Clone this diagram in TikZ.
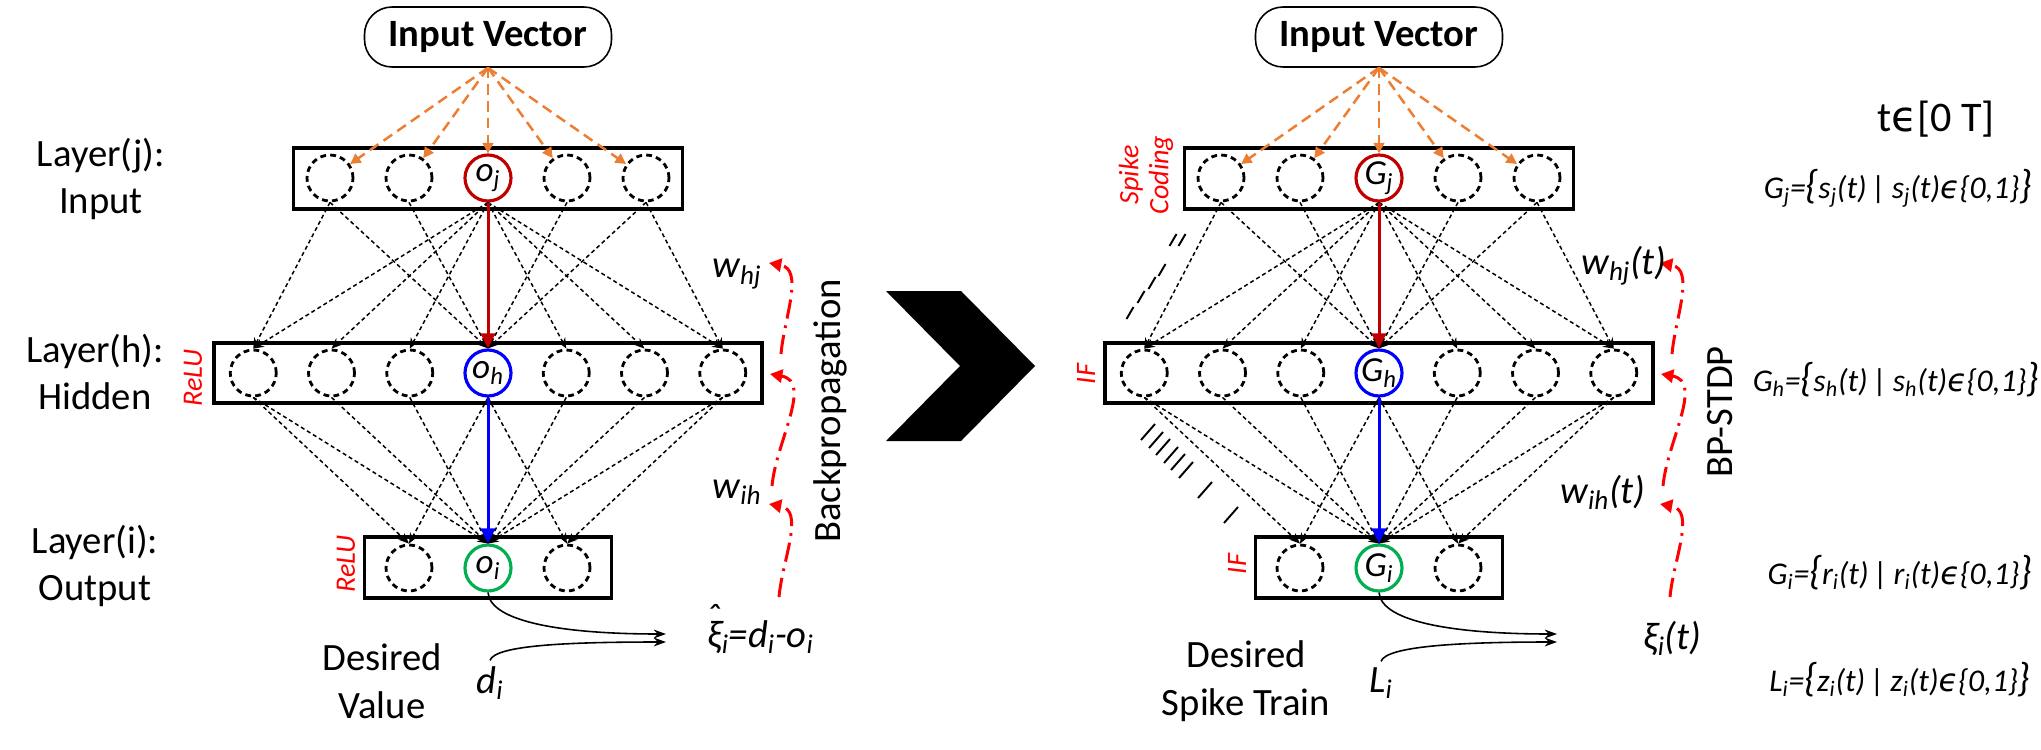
\documentclass[tikz,border=0pt]{standalone}
\usepackage{fontspec}
\setmainfont{Carlito}
\newfontfamily\symfont{DejaVu Sans}
\usetikzlibrary{arrows.meta,positioning}
\definecolor{darkred}{HTML}{C00000}
\definecolor{feedorange}{HTML}{ED7D31}
\definecolor{outgreen}{HTML}{00B050}
\newcommand{\bigbr}[1]{{\fontsize{23}{23}\selectfont#1}}
\newcommand{\spikeset}[3]{#1\textsubscript{#2}=\bigbr{\{}#3\textsubscript{#2}(t)\,|\,#3\textsubscript{#2}(t){\symfont ϵ}\{0,1\}\bigbr{\}}}
\tikzset{
  layerbox/.style={draw, line width=2.2pt, minimum height=1.21cm, inner sep=0pt},
  neuron/.style={circle, draw, line width=1.6pt, dash pattern=on 3.3pt off 2.4pt, minimum size=0.92cm, inner sep=0pt},
  firing/.style={circle, draw, line width=1.8pt, minimum size=0.92cm, inner sep=0pt, font=\fontsize{20}{20}\selectfont\itshape},
  vecbox/.style={draw, line width=0.9pt, rounded corners=0.55cm, minimum width=4.94cm, minimum height=1.2cm, font=\fontsize{22}{22}\selectfont\bfseries},
  feed/.style={draw=feedorange, line width=1.4pt, dash pattern=on 6pt off 3.5pt, -{Triangle[length=6pt,width=6pt,fill=feedorange]}},
  link/.style={line width=0.85pt, dash pattern=on 2.3pt off 1.7pt, -{Stealth[length=6pt,width=5pt]}},
  flow/.style={line width=1.7pt, -{Triangle[length=8.5pt,width=8pt]}},
  backarc/.style={draw=red, line width=1.7pt, dash pattern=on 11pt off 4pt on 1.5pt off 4pt, -{Triangle[length=7pt,width=7.5pt,fill=red]}},
  outarrow/.style={line width=0.9pt, -{Stealth[length=7pt,width=5pt]}},
  layertext/.style={font=\fontsize{22}{27}\selectfont, align=center},
  weighttext/.style={font=\fontsize{22}{22}\selectfont\itshape},
  acttext/.style={font=\fontsize{16}{17}\selectfont\itshape, text=red, rotate=90, align=center},
  settext/.style={font=\fontsize{18}{18}\selectfont\itshape},
  spiketick/.style={line width=1.1pt},
}

\begin{document}
\begin{tikzpicture}
  \useasboundingbox (0,0) rectangle (40.82,-14.98);

  % both networks: ANN on the left, SNN on the right
  \foreach \net/\cx/\nv/\dv in {L/9.76/o/d, R/27.58/G/L} {
    \node[vecbox] (\net vec) at (\cx,-0.74) {Input Vector};
    \node[layerbox, minimum width=7.78cm] (\net jbox) at (\cx,-3.57) {};
    \node[layerbox, minimum width=10.96cm] (\net hbox) at (\cx,-7.46) {};
    \node[layerbox, minimum width=4.94cm] (\net ibox) at (\cx,-11.35) {};
    \foreach \k in {1,2,4,5}
      \node[neuron] (\net j\k) at ({\cx+1.58*(\k-3)},-3.56) {};
    \foreach \k in {1,2,3,5,6,7}
      \node[neuron] (\net h\k) at ({\cx+1.565*(\k-4)},-7.46) {};
    \foreach \k in {1,3}
      \node[neuron] (\net i\k) at ({\cx+1.58*(\k-2)},-11.36) {};
    \node[firing, draw=darkred] (\net j3) at (\cx,-3.56) {\nv\textsubscript{j}};
    \node[firing, draw=blue] (\net h4) at (\cx,-7.46) {\nv\textsubscript{h}};
    \node[firing, draw=outgreen] (\net i2) at (\cx,-11.36) {\nv\textsubscript{i}};

    % connections
    \foreach \k in {1,...,5}
      \draw[feed] (\net vec.south) -- (\net j\k);
    \foreach \a/\b in {1/1,1/4,2/4,4/4,5/4,5/7,3/1,3/2,3/3,3/5,3/6,3/7}
      \draw[link] (\net j\a.south) -- (\net h\b.north);
    \foreach \a/\b in {1/1,1/2,2/2,3/2,5/2,6/2,7/2,7/3,4/1,4/3}
      \draw[link] (\net h\a.south) -- (\net i\b.north);
    \draw[flow, darkred] (\net j3) -- (\net h4);
    \draw[flow, blue] (\net h4) -- (\net i2);

    % error at the output
    \coordinate (\net e1) at ({\cx+3.56},-12.68);
    \coordinate (\net e2) at ({\cx+3.56},-12.84);
    \node[weighttext] (\net des) at ({\cx+0.04},-13.66) {\dv\textsubscript{i}};
    \draw[outarrow] (\net i2.south) .. controls +(0.05,-0.6) and +(-2,0) .. (\net e1);
    \draw[outarrow] (\net des.north) .. controls +(0.1,0.3) and +(-2,0) .. (\net e2);

    % weight updates going back
    \coordinate (\net a1) at ({\cx+5.86},-7.08);
    \coordinate (\net b1) at ({\cx+5.62},-5.26);
    \coordinate (\net a2) at ({\cx+5.68},-9.72);
    \coordinate (\net b2) at ({\cx+5.64},-7.48);
    \coordinate (\net a3) at ({\cx+5.82},-11.94);
    \coordinate (\net b3) at ({\cx+5.62},-10.08);
    \foreach \n in {1,2,3}
      \draw[backarc] (\net a\n) to[out=85,in=-10] (\net b\n);
  }

  \node[layertext] (lj) at (2.02,-3.58) {Layer(j):\\Input};
  \node[layertext] (lh) at (1.9,-7.44) {Layer(h):\\Hidden};
  \node[layertext] (li) at (1.9,-11.32) {Layer(i):\\Output};
  \node[layertext] (ldes) at (7.64,-13.62) {Desired\\Value};
  \node[layertext] (rdes) at (24.92,-13.62) {Desired\\Spike Train};

  \node[weighttext] (lwhj) at (14.74,-5.48) {w\textsubscript{hj}};
  \node[weighttext] (lwih) at (14.74,-9.84) {w\textsubscript{ih}};
  \node[weighttext] (rwhj) at (32.48,-5.32) {w\textsubscript{hj}(t)};
  \node[weighttext] (rwih) at (32.06,-9.84) {w\textsubscript{ih}(t)};
  \node[weighttext, anchor=west] (lerr) at (14.02,-12.74)
    {{\ooalign{ξ\cr\hidewidth\raisebox{0.45em}{ˆ}\hidewidth\cr}}\textsubscript{i}=d\textsubscript{i}-o\textsubscript{i}};
  \node[weighttext, anchor=west] (rerr) at (32.74,-12.76) {ξ\textsubscript{i}(t)};

  \node[layertext, rotate=90] (lbp) at (16.6,-8.22) {Backpropagation};
  \node[layertext, rotate=90] (rbp) at (34.4,-8.24) {BP-STDP};

  \node[acttext] (lrelu1) at (3.86,-7.56) {ReLU};
  \node[acttext] (lrelu2) at (6.92,-11.28) {ReLU};
  \node[acttext] (rif1) at (21.72,-7.48) {IF};
  \node[acttext] (rif2) at (24.74,-11.28) {IF};
  \node[acttext] (rcode) at (22.92,-3.5) {Spike\\Coding};

  % spike trains
  \foreach \x/\y in {23.46/-4.8, 23.64/-4.8, 23.24/-5.4, 23.04/-5.66, 22.82/-5.94, 22.6/-6.26}
    \draw[spiketick] ({\x-0.07},{\y-0.12}) -- ({\x+0.07},{\y+0.12});
  \foreach \x/\y in {22.96/-8.64, 23.12/-8.8, 23.26/-8.94, 23.42/-9.1, 23.56/-9.24, 23.72/-9.4, 24.1/-9.8, 24.62/-10.3}
    \draw[spiketick] ({\x-0.14},{\y-0.16}) -- ({\x+0.14},{\y+0.16});

  % conversion arrow
  \fill (17.72,-5.82) -- (19.22,-5.82) -- (20.7,-7.32) -- (19.22,-8.82) -- (17.72,-8.82) -- (19.2,-7.32) -- cycle;

  \node[font=\fontsize{24}{24}\selectfont] (trange) at (38.72,-2.38) {t{\symfont ϵ}[0 T]};
  \node[settext] (setj) at (37.96,-3.76) {\spikeset{G}{j}{s}};
  \node[settext] (seth) at (37.92,-7.6) {\spikeset{G}{h}{s}};
  \node[settext] (seti) at (38.0,-11.46) {\spikeset{G}{i}{r}};
  \node[settext] (setl) at (38.0,-13.6) {\spikeset{L}{i}{z}};
\end{tikzpicture}
\end{document}
